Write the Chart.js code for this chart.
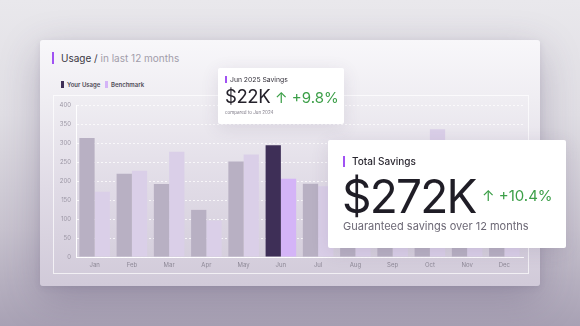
<!DOCTYPE html>
<html>
<head>
<meta charset="utf-8">
<script src="https://cdn.jsdelivr.net/npm/chart.js@4/dist/chart.umd.min.js"></script>
<style>
  html, body { margin: 0; padding: 0; }
  body {
    width: 580px; height: 326px; overflow: hidden; position: relative;
    font-family: Inter, "Noto Sans", sans-serif;
    background: linear-gradient(180deg, #e9e8ec 0%, #e0dee4 35%, #c8c3cf 70%, #a8a1b4 100%);
  }
  .abs { position: absolute; white-space: nowrap; }
  #panel {
    position: absolute; left: 40px; top: 40px; width: 500px; height: 246px;
    border-radius: 3px;
    background: linear-gradient(180deg, #f8f7fa 0%, #efedf2 25%, #e0dbe6 60%, #d1cad9 100%);
    box-shadow: 0 12px 40px rgba(70, 55, 95, 0.28), 0 2px 6px rgba(70, 55, 95, 0.10);
  }
  #plotBox {
    position: absolute; left: 53px; top: 95px; width: 474px; height: 177px;
    border: 1px solid rgba(255,255,255,0.7);
  }
  #chartWrap { position: absolute; left: 53px; top: 95px; width: 475px; height: 178px; }
  .accent { position: absolute; background: #a052f3; }
  .card {
    position: absolute; background: #ffffff; border-radius: 2px;
    box-shadow: 0 4px 18px rgba(70, 55, 95, 0.12);
  }
  .up { color: #3c9f48; }
</style>
</head>
<body>
<div id="panel"></div>

<!-- panel heading -->
<div class="accent" style="left:52px; top:52px; width:2px; height:12px;"></div>
<div class="abs" style="left:61px; top:52px; line-height:13px; font-size:10px; color:#3b3844;">Usage / <span style="color:#a29daa;">in last 12 months</span></div>

<!-- legend -->
<div class="abs" style="left:61px; top:81px; width:3.3px; height:6.5px; background:#3e2f57;"></div>
<div class="abs" style="left:67px; top:81px; line-height:8px; font-size:6px; font-weight:600; color:#4f4b57;">Your Usage</div>
<div class="abs" style="left:105px; top:81px; width:3.3px; height:6.5px; background:#d4b4f7;"></div>
<div class="abs" style="left:111px; top:81px; line-height:8px; font-size:6px; font-weight:600; color:#4f4b57;">Benchmark</div>

<div id="plotBox"></div>
<div id="chartWrap"><canvas id="usageChart" width="475" height="178"></canvas></div>

<!-- June savings card -->
<div class="card" style="left:218px; top:68px; width:126px; height:56px;"></div>
<div class="accent" style="left:225px; top:76px; width:1.5px; height:6.5px;"></div>
<div class="abs" style="left:230px; top:75px; line-height:9px; font-size:6.8px; color:#35323c;">Jun 2025 Savings</div>
<div class="abs" style="left:225px; top:84px; line-height:24px; font-size:18.5px; color:#25222b; letter-spacing:-0.4px;">$22K <span class="up" style="font-size:15px; letter-spacing:0;">↑ +9.8%</span></div>
<div class="abs" style="left:225px; top:110px; line-height:6px; font-size:4.5px; color:#7d7986;">compared to Jun 2024</div>

<!-- total savings card -->
<div class="card" style="left:328px; top:140px; width:238px; height:108px;"></div>
<div class="accent" style="left:342.5px; top:155.5px; width:2px; height:11.5px;"></div>
<div class="abs" style="left:352px; top:154px; line-height:14px; font-size:10px; font-weight:500; color:#2b2831;">Total Savings</div>
<div class="abs" style="left:342px; top:168px; line-height:56px; font-size:46px; color:#1f1d26; letter-spacing:-1.8px;">$272K</div>
<div class="abs up" style="left:482px; top:186px; line-height:20px; font-size:15px;">↑ +10.4%</div>
<div class="abs" style="left:343px; top:219px; line-height:15px; font-size:11px; color:#6c6875;">Guaranteed savings over 12 months</div>

<script>
// Monthly usage compared with the benchmark, last 12 months
const months = ['Jan', 'Feb', 'Mar', 'Apr', 'May', 'Jun', 'Jul', 'Aug', 'Sep', 'Oct', 'Nov', 'Dec'];
const yourUsage = [313, 219, 192, 124, 251, 294, 193, 215, 185, 240, 205, 262];
const benchmark = [172, 227, 277, 96, 270, 206, 186, 232, 195, 336, 248, 272];
const yTicks = [0, 50, 100, 150, 200, 250, 300, 350, 400];
const highlightMonth = 'Jun';

const hi = months.indexOf(highlightMonth);
const usageColors = months.map((m, i) => i === hi ? '#3e2f57' : '#b8b0c3');
const benchColors = months.map((m, i) => i === hi ? '#d4b4f7' : '#dacfe8');

new Chart(document.getElementById('usageChart'), {
  type: 'bar',
  data: {
    labels: months,
    datasets: [
      { label: 'Your Usage', data: yourUsage, backgroundColor: usageColors,
        categoryPercentage: 0.82, barPercentage: 1.0, borderWidth: 0 },
      { label: 'Benchmark', data: benchmark, backgroundColor: benchColors,
        categoryPercentage: 0.82, barPercentage: 1.0, borderWidth: 0 }
    ]
  },
  options: {
    responsive: false,
    animation: false,
    devicePixelRatio: 1,
    layout: { padding: { top: 10, right: 5, left: 0, bottom: 0 } },
    plugins: { legend: { display: false }, tooltip: { enabled: false } },
    scales: {
      x: {
        grid: { display: false, drawTicks: false },
        border: { display: true, color: 'rgba(255,255,255,0.95)', width: 1 },
        ticks: { padding: 5, color: '#8d8896', font: { family: 'Inter', size: 6 } },
        afterFit: (s) => { s.height = 16; }
      },
      y: {
        min: 0, max: 400,
        afterBuildTicks: (s) => { s.ticks = yTicks.map(v => ({ value: v })); },
        grid: { color: 'rgba(255,255,255,0.75)', lineWidth: 1, drawTicks: false },
        border: { display: true, color: 'rgba(255,255,255,0.95)', width: 1, dash: [2, 2] },
        ticks: { padding: 5, color: '#9b96a4', font: { family: 'Inter', size: 6 } },
        afterFit: (s) => { s.width = 23; }
      }
    }
  }
});
</script>
</body>
</html>
